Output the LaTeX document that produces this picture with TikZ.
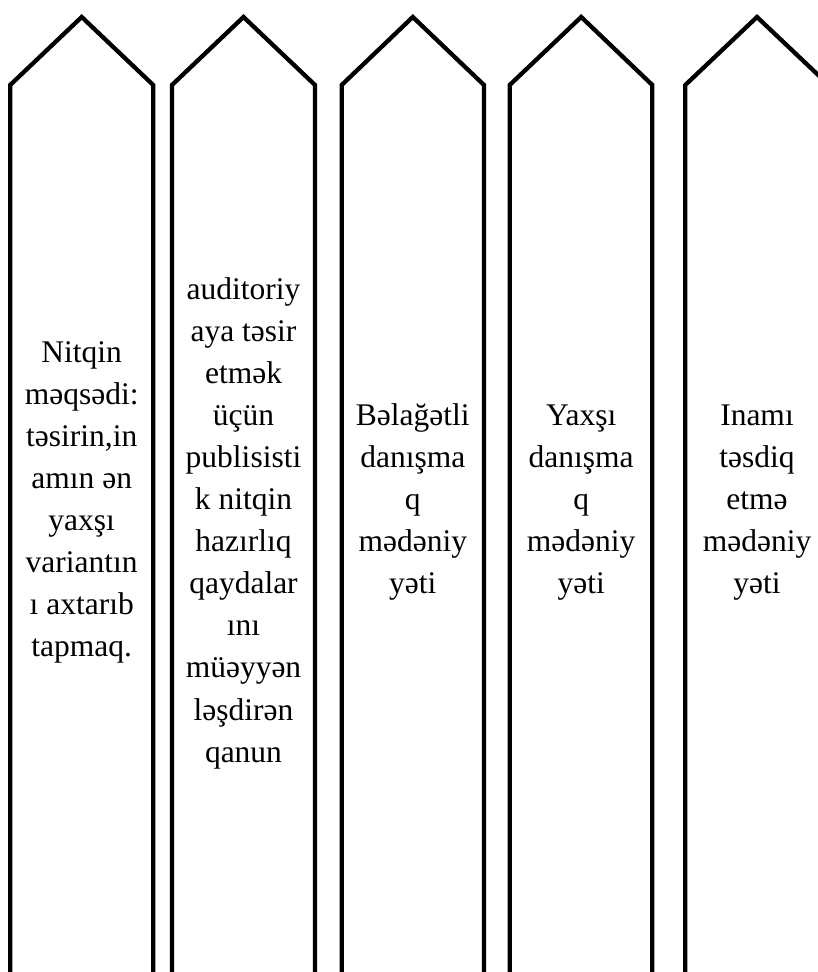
\documentclass[tikz,border=0pt]{standalone}
\usepackage{fontspec}
\setmainfont{Liberation Serif}
\begin{document}
\begin{tikzpicture}[x=1pt,y=-1pt,
  banner/.style={line width=4.3pt, line join=miter, miter limit=10},
  txt/.style={anchor=base, inner sep=0pt, font=\fontsize{31.5}{42}\selectfont}]
\useasboundingbox (0,0) rectangle (818,972);
\clip (0,0) rectangle (818,972);
% banners: left x, apex x, right x
\foreach \l/\m/\r in {10.2/81.7/153.2, 172/243.5/315, 341.7/412.8/484, 509.7/581.2/652.3, 685.3/757/828.7}
  \draw[banner] (\l,990) -- (\l,85) -- (\m,17) -- (\r,85) -- (\r,990);
% column 1
\foreach \t [count=\i] in {Nitqin,məqsədi:,{təsirin,in},amın ən,yaxşı,variantın,ı axtarıb,tapmaq.}
  \node[txt] (a\i) at (81.7,{362+(\i-1)*42.1}) {\t};
% column 2
\foreach \t [count=\i] in {auditoriy,aya təsir,etmək,üçün,publisisti,k nitqin,hazırlıq,qaydalar,ını,müəyyən,ləşdirən,qanun}
  \node[txt] (b\i) at (243.5,{299+(\i-1)*42.1}) {\t};
% column 3
\foreach \t [count=\i] in {Bəlağətli,danışma,q,mədəniy,yəti}
  \node[txt] (c\i) at (412.8,{425+(\i-1)*42}) {\t};
% column 4
\foreach \t [count=\i] in {Yaxşı,danışma,q,mədəniy,yəti}
  \node[txt] (d\i) at (581.2,{425+(\i-1)*42}) {\t};
% column 5
\foreach \t [count=\i] in {Inamı,təsdiq,etmə,mədəniy,yəti}
  \node[txt] (e\i) at (757,{425+(\i-1)*42}) {\t};
\end{tikzpicture}
\end{document}
